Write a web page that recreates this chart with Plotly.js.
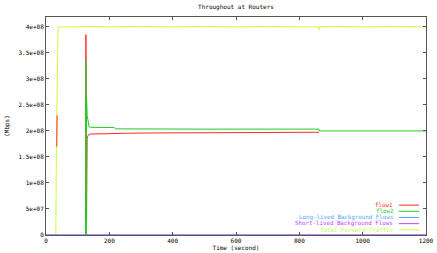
<!DOCTYPE html>
<html>
<head>
<meta charset="utf-8">
<script src="https://cdn.plot.ly/plotly-3.0.1.min.js"></script>
<style>html,body{margin:0;padding:0;background:#fff;}#chart{width:437px;height:253px;}</style>
</head>
<body>
<div id="chart"></div>
<script>
// ---- data ----
const seriesNames = ["flow1", "flow2", "Long-lived Background Flows", "Short-lived Background Flows", "Total Forward Traffic"];
const seriesColors = ["#ff2a2a", "#22cc22", "#4da6ff", "#c040ff", "#c8ff3c"];

const flow1Time = [34, 35, null, 125, 126, 127, 128, 129, 130, 132, 135, 140, 160, 200, 250, 300, 400, 500, 600, 700, 800, 862];
const flow1Val  = [1.7e8, 2.3e8, null, 0, 3.85e8, 1.2e8, 0.25e8, 1.5e8, 1.85e8, 1.9e8, 1.93e8, 1.94e8, 1.945e8, 1.95e8, 1.955e8, 1.96e8, 1.965e8, 1.97e8, 1.97e8, 1.97e8, 1.975e8, 1.975e8];

const flow2Time = [124, 125, 126, 127, 128, 130, 133, 136, 140, 180, 215, 220, 300, 400, 500, 600, 700, 800, 862, 863, 900, 1000, 1100, 1200];
const flow2Val  = [0, 0, 3.35e8, 0, 2.65e8, 2.3e8, 2.12e8, 2.08e8, 2.07e8, 2.065e8, 2.065e8, 2.04e8, 2.035e8, 2.035e8, 2.035e8, 2.035e8, 2.035e8, 2.035e8, 2.035e8, 2.0e8, 2.0e8, 2.005e8, 2.0e8, 2.0e8];

const longTime = [0, 1200];
const longVal  = [0, 0];

const shortTime = [0, 1200];
const shortVal  = [0, 0];

const totalTime = [0, 31, 33, 36, 38, 100, 125, 200, 300, 400, 500, 600, 700, 800, 861, 862, 863, 900, 1000, 1100, 1200];
const totalVal  = [0, 0, 1.75e8, 3.5e8, 4.0e8, 4.0e8, 4.01e8, 4.0e8, 4.01e8, 4.0e8, 4.01e8, 4.0e8, 4.01e8, 4.0e8, 4.0e8, 3.94e8, 4.0e8, 4.01e8, 4.0e8, 4.01e8, 4.0e8];

const yTickVals = [0, 5e7, 1e8, 1.5e8, 2e8, 2.5e8, 3e8, 3.5e8, 4e8];
const yTickText = ["0", "5e+07", "1e+08", "1.5e+08", "2e+08", "2.5e+08", "3e+08", "3.5e+08", "4e+08"];
const xTickVals = [0, 200, 400, 600, 800, 1000, 1200];

const titleText = "Throughout at Routers";
const xTitle = "Time (second)";
const yTitle = "(Mbps)";

// ---- chart ----
const FONT = "DejaVu Sans Mono";
const times = [flow1Time, flow2Time, longTime, shortTime, totalTime];
const vals = [flow1Val, flow2Val, longVal, shortVal, totalVal];
const order = [4, 0, 1, 2, 3]; // draw order (magenta on top at zero)
const traces = order.map(i => ({
  x: times[i], y: vals[i], type: "scatter", mode: "lines",
  name: seriesNames[i], line: {color: seriesColors[i], width: 1},
  connectgaps: false, showlegend: false, hoverinfo: "skip"
}));

const annotations = [];
const shapes = [];
const legTop = 205.5, legStep = 6.2;
const plotH = 253 - 17.5 - 16.7;
seriesNames.forEach((n, i) => {
  const yPix = legTop + i * legStep;
  const yPaper = (253 - 17.5 - yPix) / plotH;
  annotations.push({
    xref: "paper", yref: "paper", x: (393 - 45.5) / 380.5, y: yPaper,
    xanchor: "right", yanchor: "middle", text: n, showarrow: false,
    borderpad: 0, borderwidth: 0,
    font: {family: FONT, size: 5.8, color: seriesColors[i]}
  });
  shapes.push({
    type: "line", xref: "paper", yref: "paper", layer: "above",
    x0: (399 - 45.5) / 380.5, x1: (419 - 45.5) / 380.5, y0: yPaper, y1: yPaper,
    line: {color: seriesColors[i], width: 1}
  });
});

const layout = {
  width: 437, height: 253,
  margin: {l: 45.5, r: 11, t: 16.7, b: 17.5, pad: 0},
  paper_bgcolor: "#fff", plot_bgcolor: "#fff",
  font: {family: FONT, size: 6, color: "#000"},
  title: {text: titleText, font: {family: FONT, size: 6, color: "#000"}, x: 0.54, xanchor: "center", y: 0.972, yanchor: "middle"},
  xaxis: {
    range: [0, 1200], tickvals: xTickVals, ticks: "inside", ticklen: 3, tickcolor: "#555",
    showline: true, linecolor: "#555", linewidth: 1, mirror: "ticks", showgrid: false, zeroline: false,
    tickfont: {family: FONT, size: 6, color: "#000"},
    title: {text: xTitle, font: {family: FONT, size: 6, color: "#000"}, standoff: 0}
  },
  yaxis: {
    range: [0, 4.19e8], tickvals: yTickVals, ticktext: yTickText, ticks: "inside", ticklen: 3, tickcolor: "#555",
    showline: true, linecolor: "#555", linewidth: 1, mirror: "ticks", showgrid: false, zeroline: false,
    tickfont: {family: FONT, size: 6, color: "#000"},
    title: {text: yTitle, font: {family: FONT, size: 6, color: "#000"}, standoff: 8}
  },
  annotations: annotations,
  shapes: shapes,
  showlegend: false
};

Plotly.newPlot("chart", traces, layout, {staticPlot: true, displayModeBar: false});
</script>
</body>
</html>
